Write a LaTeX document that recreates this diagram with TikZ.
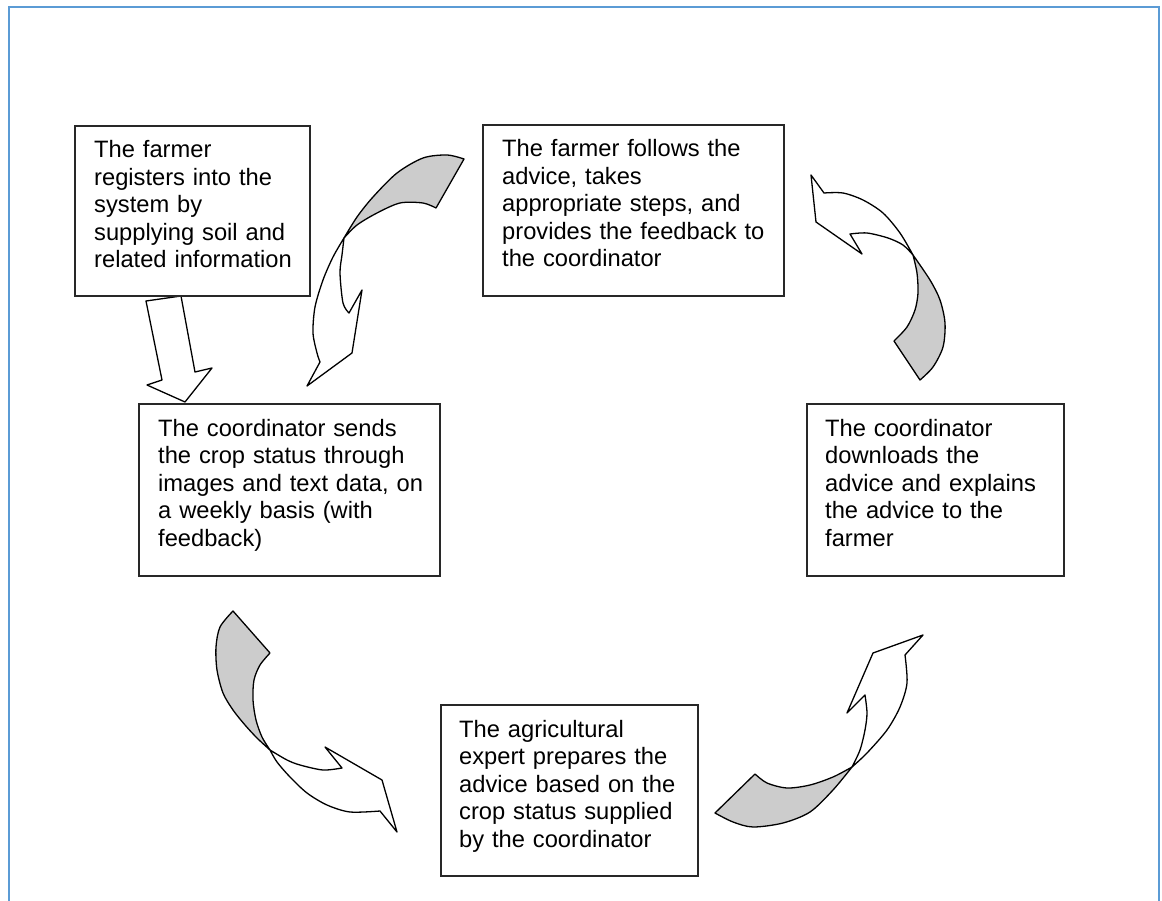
\documentclass[tikz,border=0pt]{standalone}
\usepackage{fontspec}
\setmainfont{Liberation Sans}
\definecolor{framecol}{RGB}{91,155,213}
\definecolor{boxline}{RGB}{40,40,40}
\definecolor{arrowgray}{RGB}{204,204,204}
\begin{document}
\begin{tikzpicture}[x=1pt,y=-1pt,
  stepbox/.style={draw=boxline, line width=1.4pt, fill=white, outer sep=0pt,
    inner sep=0pt, anchor=north west},
  steptext/.style={align=left, inner sep=0pt, text width=300pt, anchor=base west,
    font=\fontsize{23.7}{27.5}\selectfont},
  curl/.style={draw=black, line width=1.3pt, line join=round},
  back/.style={curl, fill=arrowgray},
  front/.style={curl, fill=white}]
\useasboundingbox (0,0) rectangle (1162,901);
\fill[white] (0,0) rectangle (1162,901);
% page frame, open at the bottom
\draw[framecol, line width=2pt] (9,905) -- (9,7) -- (1159,7) -- (1159,905);

% straight block arrow: registration -> coordinator
\draw[front] (146,301) -- (162,380) -- (147,385) -- (185,402) -- (212,368)
  -- (195,372) -- (181,296) -- cycle;

% curled arrow, top middle
\draw[back] plot[smooth] coordinates {(464,159) (447,155) (423,158) (397,173) (373,197) (357,217) (344,238)}
  -- plot[smooth] coordinates {(344,238) (357,225) (377,213) (400,203) (423,203) (436,208)} -- cycle;
\draw[front] plot[smooth] coordinates {(344,238) (333,257) (323,280) (315,307) (313,333) (317,353) (320,362)}
  -- (307,386) -- (352,353) -- (362,290) -- (349,313)
  -- plot[smooth] coordinates {(349,313) (343,303) (340,273) (342,255) (344,238)} -- cycle;

% curled arrow, top right
\draw[back] plot[smooth] coordinates {(920,380) (933,367) (943,347) (945,323) (940,300) (930,280) (913,255)}
  -- plot[smooth] coordinates {(913,255) (917,273) (918,293) (915,310) (907,327) (894,341)} -- cycle;
\draw[front] plot[smooth] coordinates {(913,255) (900,233) (883,213) (863,200) (843,193) (824,193)}
  -- (811,175) -- (816,222) -- (862,254) -- (850,234)
  -- plot[smooth] coordinates {(850,234) (867,233) (888,238) (903,245) (913,255)} -- cycle;

% curled arrow, bottom left
\draw[back] plot[smooth] coordinates {(233,611) (220,627) (216,647) (217,670) (223,693) (233,710) (245,725) (257,738) (270,750)}
  -- plot[smooth] coordinates {(270,750) (262,737) (256,720) (253,700) (254,680) (260,665) (270,653)} -- cycle;
\draw[front] plot[smooth] coordinates {(270,750) (287,760) (300,765) (323,770) (342,768)}
  -- (325,747) -- (382,780) -- (397,832) -- (380,811)
  -- plot[smooth] coordinates {(380,811) (350,812) (327,805) (307,793) (290,777) (277,762) (270,750)} -- cycle;

% curled arrow, bottom right
\draw[back] plot[smooth] coordinates {(755,774) (767,783) (787,788) (810,785) (833,777) (852,767)}
  -- plot[smooth] coordinates {(852,767) (833,790) (810,812) (783,823) (753,827) (733,822) (715,813)} -- cycle;
\draw[front] plot[smooth] coordinates {(852,767) (867,753) (887,730) (900,707) (907,683) (905,655)}
  -- (923,635) -- (873,653) -- (847,713) -- (865,695)
  -- plot[smooth] coordinates {(865,695) (867,713) (865,730) (860,750) (852,767)} -- cycle;

% step boxes
\node[stepbox, minimum width=235, minimum height=170] (b1) at (75,126) {};
\node[stepbox, minimum width=301, minimum height=171] (b2) at (483,125) {};
\node[stepbox, minimum width=301, minimum height=172] (b3) at (139,404) {};
\node[stepbox, minimum width=257, minimum height=172] (b4) at (807,404) {};
\node[stepbox, minimum width=257, minimum height=171] (b5) at (441,705) {};

% step texts
\node[steptext] (t1) at (94,158) {The farmer\\registers into the\\system by\\supplying soil and\\related information};
\node[steptext] (t2) at (502,157) {The farmer follows the\\advice, takes\\appropriate steps, and\\provides the feedback to\\the coordinator};
\node[steptext] (t3) at (158,436) {The coordinator sends\\the crop status through\\images and text data, on\\a weekly basis (with\\feedback)};
\node[steptext] (t4) at (825,436) {The coordinator\\downloads the\\advice and explains\\the advice to the\\farmer};
\node[steptext] (t5) at (459,737) {The agricultural\\expert prepares the\\advice based on the\\crop status supplied\\by the coordinator};
\end{tikzpicture}
\end{document}
